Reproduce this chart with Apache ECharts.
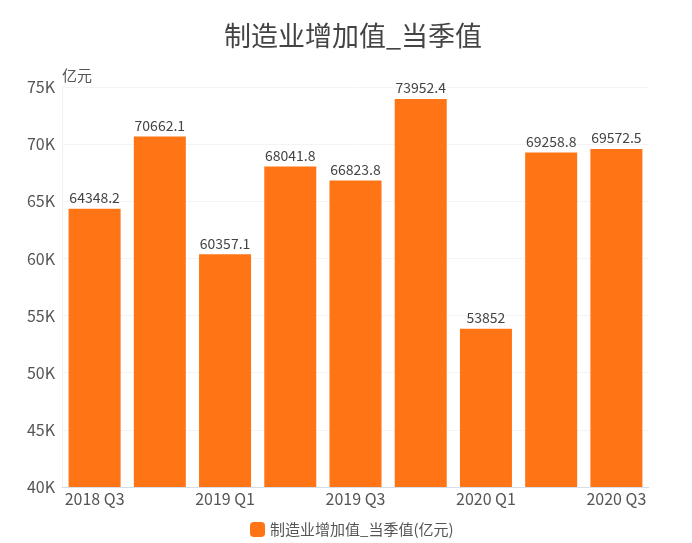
<!DOCTYPE html>
<html>
<head>
<meta charset="utf-8">
<style>html,body{margin:0;padding:0;background:#fff}#main{width:692px;height:543px}</style>
<script src="https://cdn.jsdelivr.net/npm/echarts@6/dist/echarts.min.js"></script>
</head>
<body>
<div id="main"></div>
<script>
var categories = ['2018 Q3','2018 Q4','2019 Q1','2019 Q2','2019 Q3','2019 Q4','2020 Q1','2020 Q2','2020 Q3'];
var values = [64348.2,70662.1,60357.1,68041.8,66823.8,73952.4,53852,69258.8,69572.5];
var seriesName = '制造业增加值_当季值(亿元)';
var titleText = '制造业增加值_当季值';
var unitText = '亿元';
var font = '"Noto Sans CJK SC","Noto Sans",sans-serif';

var chart = echarts.init(document.getElementById('main'));
chart.setOption({
	animation: false,
	title: {
		text: titleText, left: 219, top: 17,
		textStyle: {fontFamily: font, fontSize: 27, fontWeight: 'normal', color: '#444'}
	},
	legend: {
		left: 245, bottom: 1, itemWidth: 15, itemHeight: 15,
		data: [{name: seriesName, icon: 'roundRect'}],
		textStyle: {fontFamily: font, fontSize: 15, color: '#555'}
	},
	grid: {left: 62, right: 43, top: 87, bottom: 56},
	xAxis: {
		type: 'category', data: categories,
		axisTick: {show: false},
		axisLine: {lineStyle: {color: '#d5dde8'}},
		axisLabel: {interval: 1, fontFamily: font, fontSize: 16, color: '#555', margin: 4}
	},
	yAxis: {
		type: 'value', min: 40000, max: 75000, interval: 5000,
		name: unitText, nameGap: 4,
		nameTextStyle: {fontFamily: font, fontSize: 15, color: '#555', align: 'left'},
		axisLine: {show: true, lineStyle: {color: '#f2f2f2'}}, axisTick: {show: false},
		splitLine: {lineStyle: {color: '#f4f4f4'}},
		axisLabel: {
			fontFamily: font, fontSize: 16, color: '#555', margin: 7,
			formatter: function (v) { return (v / 1000) + 'K'; }
		}
	},
	series: [{
		name: seriesName, type: 'bar', data: values, barWidth: 52,
		itemStyle: {color: '#ff7415'},
		label: {show: true, position: 'top', distance: 4, fontFamily: font, fontSize: 14, color: '#444'}
	}]
});
</script>
</body>
</html>
